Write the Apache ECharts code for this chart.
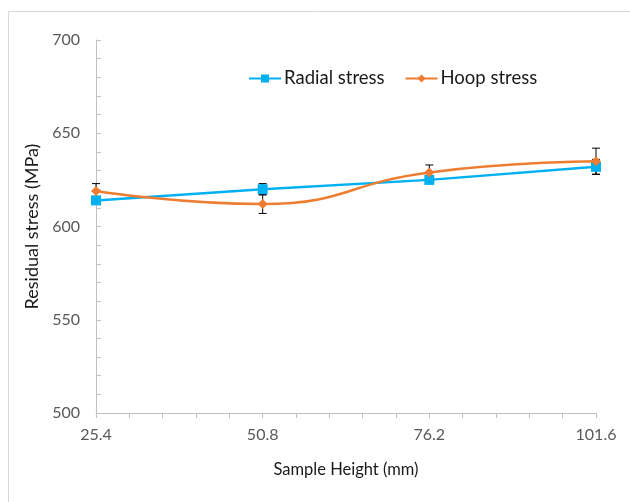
<!DOCTYPE html>
<html>
<head>
<meta charset="utf-8">
<script src="https://cdn.jsdelivr.net/npm/echarts@6/dist/echarts.min.js"></script>
<style>
html,body{margin:0;padding:0;background:#fff;}
#chart{width:630px;height:502px;}
</style>
</head>
<body>
<div id="chart"></div>
<script>
// Data
var heights = [25.4, 50.8, 76.2, 101.6];
var radialStress = [614, 620, 625, 632];
var radialErr = [2, 3, 2, 4];
var hoopStress = [619, 612, 629, 635];
var hoopErr = [4, 5, 4, 7];
var seriesNames = ['Radial stress', 'Hoop stress'];
var xTitle = 'Sample Height (mm)';
var yTitle = 'Residual stress (MPa)';

var FONT = 'Lato, "Open Sans", sans-serif';

function pairs(xs, ys) { return xs.map(function (x, i) { return [x, ys[i]]; }); }
function errData(xs, ys, es) { return xs.map(function (x, i) { return [x, ys[i] - es[i], ys[i] + es[i]]; }); }

function errRender(params, api) {
  var x = api.value(0);
  var lo = api.coord([x, api.value(1)]);
  var hi = api.coord([x, api.value(2)]);
  var w = 4;
  var style = { stroke: '#000', lineWidth: 1 };
  return {
    type: 'group',
    children: [
      { type: 'line', shape: { x1: lo[0], y1: lo[1], x2: hi[0], y2: hi[1] }, style: style },
      { type: 'line', shape: { x1: lo[0] - w, y1: lo[1], x2: lo[0] + w, y2: lo[1] }, style: style },
      { type: 'line', shape: { x1: hi[0] - w, y1: hi[1], x2: hi[0] + w, y2: hi[1] }, style: style }
    ]
  };
}

var chart = echarts.init(document.getElementById('chart'), null, { renderer: 'canvas' });
chart.setOption({
  backgroundColor: '#fff',
  animation: false,
  textStyle: { fontFamily: FONT },
  graphic: [{
    type: 'rect', silent: true, z: -10,
    shape: { x: 8.5, y: 11.5, width: 700, height: 600 },
    style: { fill: 'none', stroke: '#d9d9d9', lineWidth: 1 }
  }],
  legend: {
    data: seriesNames,
    top: 64, left: 243,
    itemWidth: 32, itemHeight: 10, itemGap: 20,
    textStyle: { fontFamily: FONT, fontSize: 18.5, color: '#1a1a1a', padding: [0, 0, 0, -2] }
  },
  grid: { left: 96, right: 34, top: 40, bottom: 89 },
  xAxis: {
    type: 'value', min: 25.4, max: 101.6, interval: 25.4,
    name: xTitle, nameLocation: 'middle', nameGap: 48,
    nameTextStyle: { fontFamily: FONT, fontSize: 16.5, color: '#1a1a1a' },
    axisLine: { show: true, lineStyle: { color: '#bfbfbf', width: 1 } },
    axisTick: { show: true, inside: false, length: 5, lineStyle: { color: '#bfbfbf' } },
    minorTick: { show: true, splitNumber: 5, length: 5, lineStyle: { color: '#bfbfbf' } },
    splitLine: { show: false },
    axisLabel: { fontFamily: FONT, fontSize: 16, color: '#595959', margin: 14,
      formatter: function (v) { return v.toFixed(1); } }
  },
  yAxis: {
    type: 'value', min: 500, max: 700, interval: 50,
    name: yTitle, nameLocation: 'middle', nameGap: 48,
    nameTextStyle: { fontFamily: FONT, fontSize: 18, color: '#1a1a1a' },
    axisLine: { show: true, lineStyle: { color: '#bfbfbf', width: 1 } },
    axisTick: { show: true, inside: true, length: 5, lineStyle: { color: '#bfbfbf' } },
    minorTick: { show: true, splitNumber: 5, length: 5, lineStyle: { color: '#bfbfbf' } },
    splitLine: { show: false },
    axisLabel: { fontFamily: FONT, fontSize: 16, color: '#595959', margin: 16 }
  },
  series: [
    {
      name: seriesNames[0], type: 'line', data: pairs(heights, radialStress),
      symbol: 'rect', symbolSize: 10,
      lineStyle: { color: '#00b0f0', width: 2.5 },
      itemStyle: { color: '#00b0f0' }, z: 3
    },
    {
      name: seriesNames[1], type: 'line', data: pairs(heights, hoopStress),
      smooth: 0.5,
      symbol: 'diamond', symbolSize: 10,
      lineStyle: { color: '#ed7d31', width: 2.5 },
      itemStyle: { color: '#ed7d31' }, z: 4
    },
    {
      type: 'custom', name: 'radialErr', data: errData(heights, radialStress, radialErr),
      renderItem: errRender, z: 2, silent: true
    },
    {
      type: 'custom', name: 'hoopErr', data: errData(heights, hoopStress, hoopErr),
      renderItem: errRender, z: 2, silent: true
    }
  ]
});
</script>
</body>
</html>
